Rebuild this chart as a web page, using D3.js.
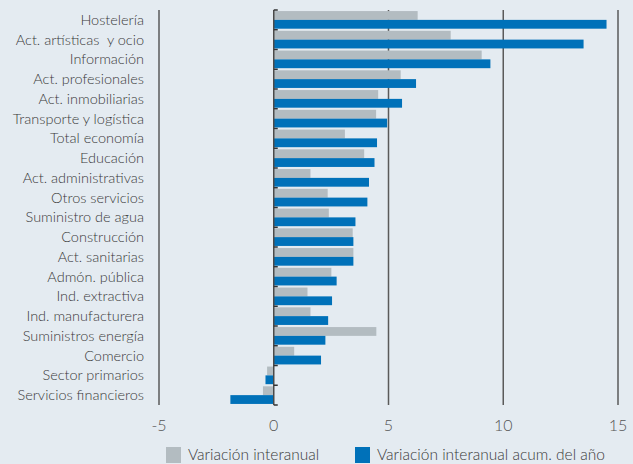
<!DOCTYPE html>
<html>
<head>
<meta charset="utf-8">
<script src="https://cdn.jsdelivr.net/npm/d3@7"></script>
<style>
  body { margin: 0; background: #e4ebf1; }
  svg { display: block; }
  text { font-family: Lato, "Open Sans", sans-serif; fill: #3a3a3a; font-weight: 300; }
</style>
</head>
<body>
<div id="chart"></div>
<script>
var categories = ['Hostelería', 'Act. artísticas  y ocio', 'Información', 'Act. profesionales',
    'Act. inmobiliarias', 'Transporte y logística', 'Total economía', 'Educación',
    'Act. administrativas', 'Otros servicios', 'Suministro de agua', 'Construcción',
    'Act. sanitarias', 'Admón. pública', 'Ind. extractiva', 'Ind. manufacturera',
    'Suministros energía', 'Comercio', 'Sector primarios', 'Servicios financieros'];

var interanual = [6.27, 7.71, 9.06, 5.53, 4.55, 4.46, 3.1, 3.94, 1.6, 2.35,
    2.4, 3.44, 3.47, 2.51, 1.47, 1.6, 4.47, 0.89, -0.29, -0.47];

var acumulado = [14.5, 13.5, 9.44, 6.2, 5.59, 4.94, 4.5, 4.39, 4.15, 4.08,
    3.56, 3.47, 3.47, 2.74, 2.54, 2.37, 2.25, 2.06, -0.36, -1.89];

var xTicks = [-5, 0, 5, 10, 15];
var seriesNames = ['Variación interanual', 'Variación interanual acum. del año'];
var colors = ['#b3bcc1', '#0071b9'];

var width = 633, height = 464;
var margin = { top: 10, right: 15, bottom: 59, left: 159 };

var svg = d3.select('#chart').append('svg')
    .attr('width', width)
    .attr('height', height)

var x = d3.scaleLinear()
    .domain([-5, 15])
    .range([margin.left, 618])

var y = d3.scaleBand()
    .domain(categories)
    .range([margin.top, height - margin.bottom])

var sub = d3.scaleBand()
    .domain([0, 1])
    .range([0, y.bandwidth()])
    .paddingOuter(0.12)

// vertical gridlines (not at zero)
svg.append('g')
    .selectAll('line')
    .data(xTicks.filter(function(d) { return d !== 0; }))
    .enter().append('line')
        .attr('x1', function(d) { return x(d); })
        .attr('x2', function(d) { return x(d); })
        .attr('y1', margin.top)
        .attr('y2', height - margin.bottom)
        .style('stroke', '#5a5a5a')
        .style('stroke-width', 1.5)

// bars
var rows = svg.append('g')
    .selectAll('g')
    .data(categories)
    .enter().append('g')
        .attr('transform', function(d) { return 'translate(0,' + y(d) + ')'; })

rows.each(function(d, i) {
    var vals = [interanual[i], acumulado[i]];
    d3.select(this).selectAll('rect')
        .data(vals)
        .enter().append('rect')
            .attr('x', function(v) { return x(Math.min(0, v)); })
            .attr('width', function(v) { return Math.abs(x(v) - x(0)); })
            .attr('y', function(v, j) { return sub(j); })
            .attr('height', sub.bandwidth())
            .style('fill', function(v, j) { return colors[j]; })
})

// zero axis with small ticks at band edges
var edges = categories.map(function(c) { return y(c); }).concat([y.range()[1]]);
var zeroAxis = svg.append('g')
zeroAxis.append('line')
    .attr('x1', x(0)).attr('x2', x(0))
    .attr('y1', margin.top).attr('y2', height - margin.bottom)
    .style('stroke', '#4a4a4a')
    .style('stroke-width', 1.5)
zeroAxis.selectAll('.tk')
    .data(edges)
    .enter().append('line')
        .attr('class', 'tk')
        .attr('x1', x(0)).attr('x2', x(0) + 4)
        .attr('y1', function(d) { return d; })
        .attr('y2', function(d) { return d; })
        .style('stroke', '#333')
        .style('stroke-width', 1.5)

// category labels
svg.append('g')
    .selectAll('text')
    .data(categories)
    .enter().append('text')
        .attr('x', 144)
        .attr('y', function(d) { return y(d) + y.bandwidth() / 2; })
        .attr('dy', '0.35em')
        .attr('text-anchor', 'end')
        .style('font-size', '14.5px')
        .style('white-space', 'pre')
        .text(function(d) { return d; })

// x tick labels
svg.append('g')
    .selectAll('text')
    .data(xTicks)
    .enter().append('text')
        .attr('x', function(d) { return x(d); })
        .attr('y', 425)
        .attr('dy', '0.35em')
        .attr('text-anchor', 'middle')
        .style('font-size', '16px')
        .style('fill', '#555')
        .text(function(d) { return d; })

// legend
var legX = [166, 355];
var legend = svg.append('g')
    .selectAll('g')
    .data(seriesNames)
    .enter().append('g')
        .attr('transform', function(d, i) { return 'translate(' + legX[i] + ',447)'; })
legend.append('rect')
    .attr('width', 15)
    .attr('height', 16)
    .style('fill', function(d, i) { return colors[i]; })
legend.append('text')
    .attr('x', 22)
    .attr('y', 8)
    .attr('dy', '0.35em')
    .style('font-size', '15.5px')
    .text(function(d) { return d; })
</script>
</body>
</html>
